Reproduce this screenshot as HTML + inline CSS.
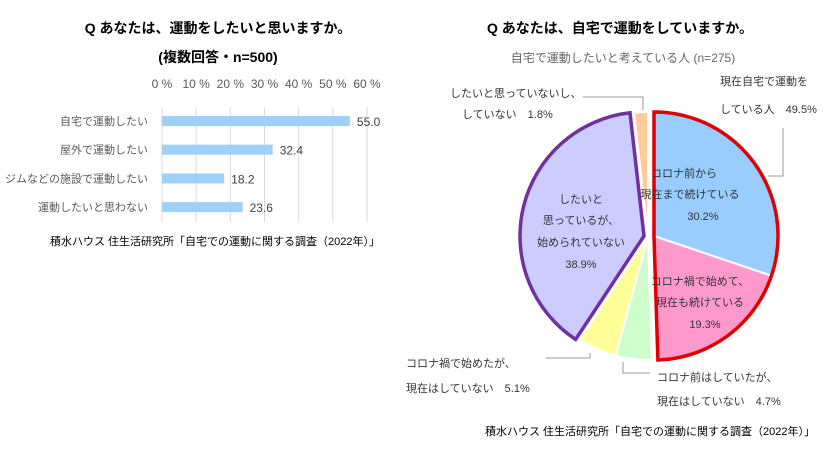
<!DOCTYPE html>
<html><head><meta charset="utf-8"><style>
body{margin:0;background:#fff;width:840px;height:451px;overflow:hidden;font-family:"Liberation Sans","Noto Sans CJK JP",sans-serif}
svg{display:block}
</style></head><body>
<svg width="840" height="451" font-family="Liberation Sans, Noto Sans CJK JP, sans-serif">
<text x="218" y="33" text-anchor="middle" font-size="14" font-weight="bold" fill="#000">Q あなたは、運動をしたいと思いますか。</text>
<text x="218" y="62" text-anchor="middle" font-size="14" font-weight="bold" fill="#000">(複数回答・n=500)</text>
<g id="bar"></g>
<text x="215" y="245" text-anchor="middle" font-size="11" fill="#000">積水ハウス 住生活研究所「自宅での運動に関する調査（2022年）」</text>

<text x="620" y="33" text-anchor="middle" font-size="14" font-weight="bold" fill="#000">Q あなたは、自宅で運動をしていますか。</text>
<text x="623" y="62" text-anchor="middle" font-size="12" fill="#666">自宅で運動したいと考えている人 (n=275)</text>
<g id="pie"></g>
<g font-size="11" fill="#333">
<text x="684" y="177" text-anchor="middle">コロナ前から</text>
<text x="690" y="198" text-anchor="middle">現在まで続けている</text>
<text x="703" y="220" text-anchor="middle">30.2%</text>
<text x="700" y="285" text-anchor="middle">コロナ禍で始めて、</text>
<text x="700" y="306" text-anchor="middle">現在も続けている</text>
<text x="705" y="328" text-anchor="middle">19.3%</text>
<text x="581" y="203" text-anchor="middle">したいと</text>
<text x="581" y="224" text-anchor="middle">思っているが、</text>
<text x="581" y="246" text-anchor="middle">始められていない</text>
<text x="581" y="268" text-anchor="middle">38.9%</text>
<text x="720" y="85">現在自宅で運動を</text>
<text x="720" y="113">している人　49.5%</text>
<text x="450" y="97">したいと思っていないし、</text>
<text x="462" y="118">していない　1.8%</text>
<text x="406" y="367">コロナ禍で始めたが、</text>
<text x="406" y="392">現在はしていない　5.1%</text>
<text x="657" y="381">コロナ前はしていたが、</text>
<text x="657" y="405">現在はしていない　4.7%</text>
</g>
<g stroke="#999" fill="none" stroke-width="1">
<polyline points="583,97 643,97 643,110"/>
<polyline points="783,128 783,176 768,176"/>
<polyline points="590,353 590,358 546,358"/>
<polyline points="623,362 623,373 650,373"/>
</g>
<text x="650" y="435" text-anchor="middle" font-size="11" fill="#000">積水ハウス 住生活研究所「自宅での運動に関する調査（2022年）」</text>
</svg>
<script>
const barCats=["自宅で運動したい","屋外で運動したい","ジムなどの施設で運動したい","運動したいと思わない"];
const barVals=[55.0,32.4,18.2,23.6];
const barTicks=[0,10,20,30,40,50,60];
const pieLabels=["コロナ前から現在まで続けている","コロナ禍で始めて、現在も続けている","コロナ前はしていたが、現在はしていない","コロナ禍で始めたが、現在はしていない","したいと思っているが、始められていない","したいと思っていないし、していない"];
const pieVals=[30.2,19.3,4.7,5.1,38.9,1.8];
const NS="http://www.w3.org/2000/svg";
function mk(p,t,a){const e=document.createElementNS(NS,t);for(const k in a)e.setAttribute(k,a[k]);p.appendChild(e);return e;}
const bar=document.getElementById('bar');
const x0=162,x1=367,xmax=60;
const xs=v=>x0+(x1-x0)*v/xmax;
const yTop=107,rowH=28.7;
barTicks.forEach(t=>{
 const l=mk(bar,'line',{x1:xs(t),x2:xs(t),y1:yTop,y2:222,stroke:'#d9d9d9','stroke-width':1});
 
 
 const tx=mk(bar,'text',{x:xs(t),y:88,'text-anchor':'middle','font-size':12,fill:'#595959'});
 tx.textContent=t+' %';
 
 
});
barCats.forEach((c,i)=>{
 const yc=yTop+14+i*rowH;
 const r=mk(bar,'rect',{x:x0,y:yc-5,width:xs(barVals[i])-x0,height:10,fill:'#9fd0fa'});
 
 
 const lb=mk(bar,'text',{x:148,y:yc+4,'text-anchor':'end','font-size':11,fill:'#595959'});
 lb.textContent=c;
 
 
 const v=mk(bar,'text',{x:xs(barVals[i])+7,y:yc+5,'font-size':12,fill:'#404040'});
 v.textContent=barVals[i].toFixed(1);
 
 
});
const pie=document.getElementById('pie');
const colors=['#99ccff','#ff99cc','#ccffcc','#ffff99','#ccccff','#ffcc99'];
const offs=[[6,0],[6,0],[0,0],[0,0],[-4,0],[0,0]];
const cx=648,cy=236,R=124;
const tot=pieVals.reduce((a,b)=>a+b,0);
const ang=v=>v/tot*2*Math.PI;
function pt(a,r,ox,oy){return [cx+ox+r*Math.sin(a),cy+oy-r*Math.cos(a)];}
function arcPath(a0,a1,ox,oy){const p0=pt(a0,R,ox,oy),p1=pt(a1,R,ox,oy);const lg=(a1-a0)>Math.PI?1:0;
 return `M${cx+ox},${cy+oy}L${p0[0]},${p0[1]}A${R},${R} 0 ${lg} 1 ${p1[0]},${p1[1]}Z`;}
let acc=0;const starts=[];
pieVals.forEach((v,i)=>{const a0=ang(acc);acc+=v;const a1=ang(acc);starts.push([a0,a1]);
 const s=mk(pie,'path',{d:arcPath(a0,a1,offs[i][0],offs[i][1]),fill:colors[i],stroke:'#fff','stroke-width':2});
 
 
});
// outline for group (first two) in red
const g0=starts[0][0],g1=starts[1][1];
const o1=mk(pie,'path',{d:arcPath(g0,g1,6,0),fill:'none',stroke:'#e00000','stroke-width':3.5,'stroke-linejoin':'miter'});


const o2=mk(pie,'path',{d:arcPath(starts[4][0],starts[4][1],-4,0),fill:'none',stroke:'#7030a0','stroke-width':3.5});


</script>
</body></html>
